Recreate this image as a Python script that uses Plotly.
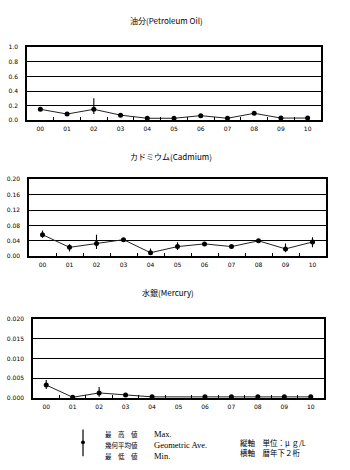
import plotly.graph_objects as go

# Calendar years (last two digits)
years = ["00", "01", "02", "03", "04", "05", "06", "07", "08", "09", "10"]

# Petroleum oil (μg/L): geometric mean, max, min
oil_avg = [0.15, 0.085, 0.15, 0.07, 0.027, 0.027, 0.063, 0.027, 0.095, 0.03, 0.03]
oil_max = [0.15, 0.085, 0.30, 0.07, 0.027, 0.027, 0.063, 0.027, 0.095, 0.03, 0.03]
oil_min = [0.15, 0.085, 0.085, 0.07, 0.027, 0.027, 0.063, 0.027, 0.095, 0.03, 0.03]

# Cadmium (μg/L)
cd_avg = [0.056, 0.023, 0.033, 0.043, 0.009, 0.025, 0.032, 0.025, 0.040, 0.019, 0.037]
cd_max = [0.067, 0.031, 0.056, 0.044, 0.020, 0.036, 0.037, 0.029, 0.043, 0.033, 0.049]
cd_min = [0.048, 0.012, 0.019, 0.042, 0.006, 0.016, 0.027, 0.020, 0.036, 0.010, 0.023]

# Mercury (μg/L); 05 has no reported value
hg_avg = [0.0033, 0.0002, 0.0013, 0.0008, 0.0003, None, 0.0003, 0.0003, 0.0003, 0.0003, 0.0003]
hg_max = [0.0046, 0.0002, 0.0028, 0.0009, 0.0003, None, 0.0003, 0.0003, 0.0003, 0.0003, 0.0003]
hg_min = [0.0023, 0.0002, 0.0003, 0.0007, 0.0003, None, 0.0003, 0.0003, 0.0003, 0.0003, 0.0003]

panels = [
    dict(title="油分(Petroleum Oil)", avg=oil_avg, mx=oil_max, mn=oil_min,
         yrange=[0, 1.0], dtick=0.2, fmt=".1f",
         px=(27, 321), py=(44, 118), title_xy=(166, 17)),
    dict(title="カドミウム(Cadmium)", avg=cd_avg, mx=cd_max, mn=cd_min,
         yrange=[0, 0.2], dtick=0.04, fmt=".2f",
         px=(29, 326), py=(178, 256), title_xy=(171, 155)),
    dict(title="水銀(Mercury)", avg=hg_avg, mx=hg_max, mn=hg_min,
         yrange=[0, 0.02], dtick=0.005, fmt=".3f",
         px=(33, 324), py=(320, 400), title_xy=(168, 293)),
]

W, H = 350, 470
JP = "Noto Sans CJK JP"
TICK_FONT = dict(family="DejaVu Sans", size=6, color="black")
fig = go.Figure()
annotations = []
shapes = []

for i, p in enumerate(panels, start=1):
    sfx = "" if i == 1 else str(i)
    up = [None if a is None else m - a for a, m in zip(p["avg"], p["mx"])]
    dn = [None if a is None else a - m for a, m in zip(p["avg"], p["mn"])]
    fig.add_trace(go.Scatter(
        x=years, y=p["avg"], mode="lines+markers",
        xaxis="x" + sfx, yaxis="y" + sfx,
        connectgaps=True,
        line=dict(color="#222", width=1),
        marker=dict(color="black", size=5, symbol="circle"),
        error_y=dict(type="data", symmetric=False, array=up, arrayminus=dn,
                     color="black", thickness=1.1, width=0),
        showlegend=False, hoverinfo="skip",
    ))
    x0, x1 = p["px"]
    y0, y1 = p["py"]
    fig.update_layout(**{
        "xaxis" + sfx: dict(
            domain=[x0 / W, x1 / W], anchor="y" + sfx,
            type="category", range=[-0.5, 10.5],
            showgrid=False, tickson="boundaries", ticks="inside",
            ticklen=3, tickwidth=1, tickcolor="black",
            showline=True, linecolor="black", linewidth=1.5, mirror=True,
            tickfont=TICK_FONT, ticklabelstandoff=2,
            zeroline=False, fixedrange=True,
        ),
        "yaxis" + sfx: dict(
            domain=[(H - y1) / H, (H - y0) / H], anchor="x" + sfx,
            range=p["yrange"], dtick=p["dtick"], tickformat=p["fmt"],
            showgrid=True, gridcolor="black", gridwidth=1.3,
            showline=True, linecolor="black", linewidth=1.5, mirror=True,
            ticks="", ticklabelstandoff=6,
            tickfont=TICK_FONT,
            zeroline=False, fixedrange=True,
        ),
    })
    tx, ty = p["title_xy"]
    annotations.append(dict(
        text=p["title"], x=tx / W, y=(H - ty) / H, xref="paper", yref="paper",
        showarrow=False, font=dict(family=JP, size=8, color="black"),
        xanchor="center", yanchor="middle",
    ))

# Legend key: range bar with a dot for the geometric mean
shapes.append(dict(type="line", xref="paper", yref="paper",
                   x0=83 / W, x1=83 / W, y0=(H - 432) / H, y1=(H - 459) / H,
                   line=dict(color="black", width=1.2)))
shapes.append(dict(type="circle", xref="paper", yref="paper",
                   x0=81 / W, x1=85 / W, y0=(H - 443) / H, y1=(H - 447) / H,
                   fillcolor="black", line=dict(color="black", width=0)))

legend_rows = [
    ("最　高　値", "Max.", 437),
    ("幾何平均値", "Geometric Ave.", 448),
    ("最　低　値", "Min.", 459),
]
for jp, en, yy in legend_rows:
    annotations.append(dict(text=jp, x=103 / W, y=(H - yy) / H, xref="paper", yref="paper",
                            showarrow=False, xanchor="left", yanchor="middle",
                            font=dict(family=JP, size=6.5, color="black")))
    annotations.append(dict(text=en, x=152 / W, y=(H - yy) / H, xref="paper", yref="paper",
                            showarrow=False, xanchor="left", yanchor="middle",
                            font=dict(family="Liberation Serif", size=8.5, color="black")))

for txt, yy in [("縦軸　単位：μ ｇ/L", 445), ("横軸　暦年下２桁", 455)]:
    annotations.append(dict(text=txt, x=238 / W, y=(H - yy) / H, xref="paper", yref="paper",
                            showarrow=False, xanchor="left", yanchor="middle",
                            font=dict(family=JP, size=7.5, color="black")))

fig.update_layout(
    width=W, height=H,
    margin=dict(l=0, r=0, t=0, b=0),
    paper_bgcolor="white", plot_bgcolor="white",
    annotations=annotations, shapes=shapes,
    showlegend=False,
)

fig.write_html("out.html", config={"displayModeBar": False})
